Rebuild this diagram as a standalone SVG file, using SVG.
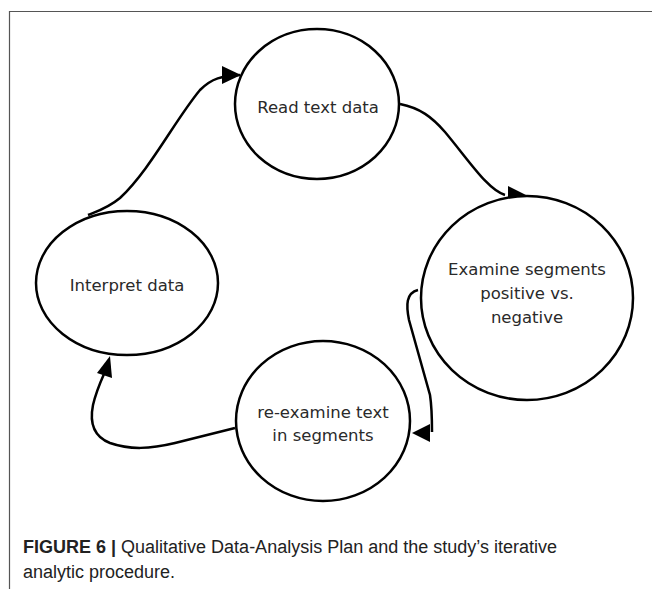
<svg xmlns="http://www.w3.org/2000/svg" width="652" height="589" viewBox="0 0 652 589">
<style>
.n{fill:#fff;stroke:#000;stroke-width:2.5}
.t{font-family:"DejaVu Sans",Verdana,sans-serif;font-size:16.5px;fill:#2a2a2a;text-anchor:middle}
.c{fill:none;stroke:#000;stroke-width:2.5}
.cap{font-family:"Liberation Sans",Arial,sans-serif;font-size:18px;fill:#222}
.ah{fill:#000}
</style>
<rect width="652" height="589" fill="#fff"/>
<path d="M9,11.5 H652 M9.5,11 V589" fill="none" stroke="#555" stroke-width="1.2"/>
<g id="connectors">
<path class="c" d="M88,215 C98,211 108,208 120,198 C150,170 175,120 200,90 C212,78 222,76 240,75"/>
<path class="ah" d="M222,66 L241,75 L222,84 Z"/>
<path class="c" d="M400,104 C420,108 432,117 445,132 C470,162 488,190 505,195"/>
<path class="ah" d="M508,186 L528,196 L508,205 Z"/>
<path class="c" d="M418,290 C406,293 406,305 409,320 L430,395 C432,408 432,420 432,432"/>
<path class="ah" d="M430,424 L412,433 L430,442 Z"/>
<path class="c" d="M235,428 L175,443 C150,449 130,450 110,443 C92,436 90,420 93,405 C96,392 100,383 104,374"/>
<path class="ah" d="M97,373 L110,356 L112,378 Z"/>
</g>
<g id="read">
<ellipse class="n" cx="317" cy="104" rx="82" ry="75"/>
<text class="t" x="318" y="113">Read text data</text>
</g>
<g id="examine">
<ellipse class="n" cx="527" cy="298" rx="106" ry="102"/>
<text class="t" x="527" y="275">Examine segments</text>
<text class="t" x="527" y="299">positive vs.</text>
<text class="t" x="527" y="323">negative</text>
</g>
<g id="interpret">
<ellipse class="n" cx="127" cy="283" rx="91" ry="72"/>
<text class="t" x="127" y="291">Interpret data</text>
</g>
<g id="reexamine">
<ellipse class="n" cx="323" cy="421" rx="87" ry="80"/>
<text class="t" x="323" y="418">re-examine text</text>
<text class="t" x="323" y="441">in segments</text>
</g>
<text class="cap" x="23" y="553"><tspan font-weight="bold">FIGURE 6 |</tspan> Qualitative Data-Analysis Plan and the study’s iterative</text>
<text class="cap" x="23" y="578">analytic procedure.</text>
</svg>
